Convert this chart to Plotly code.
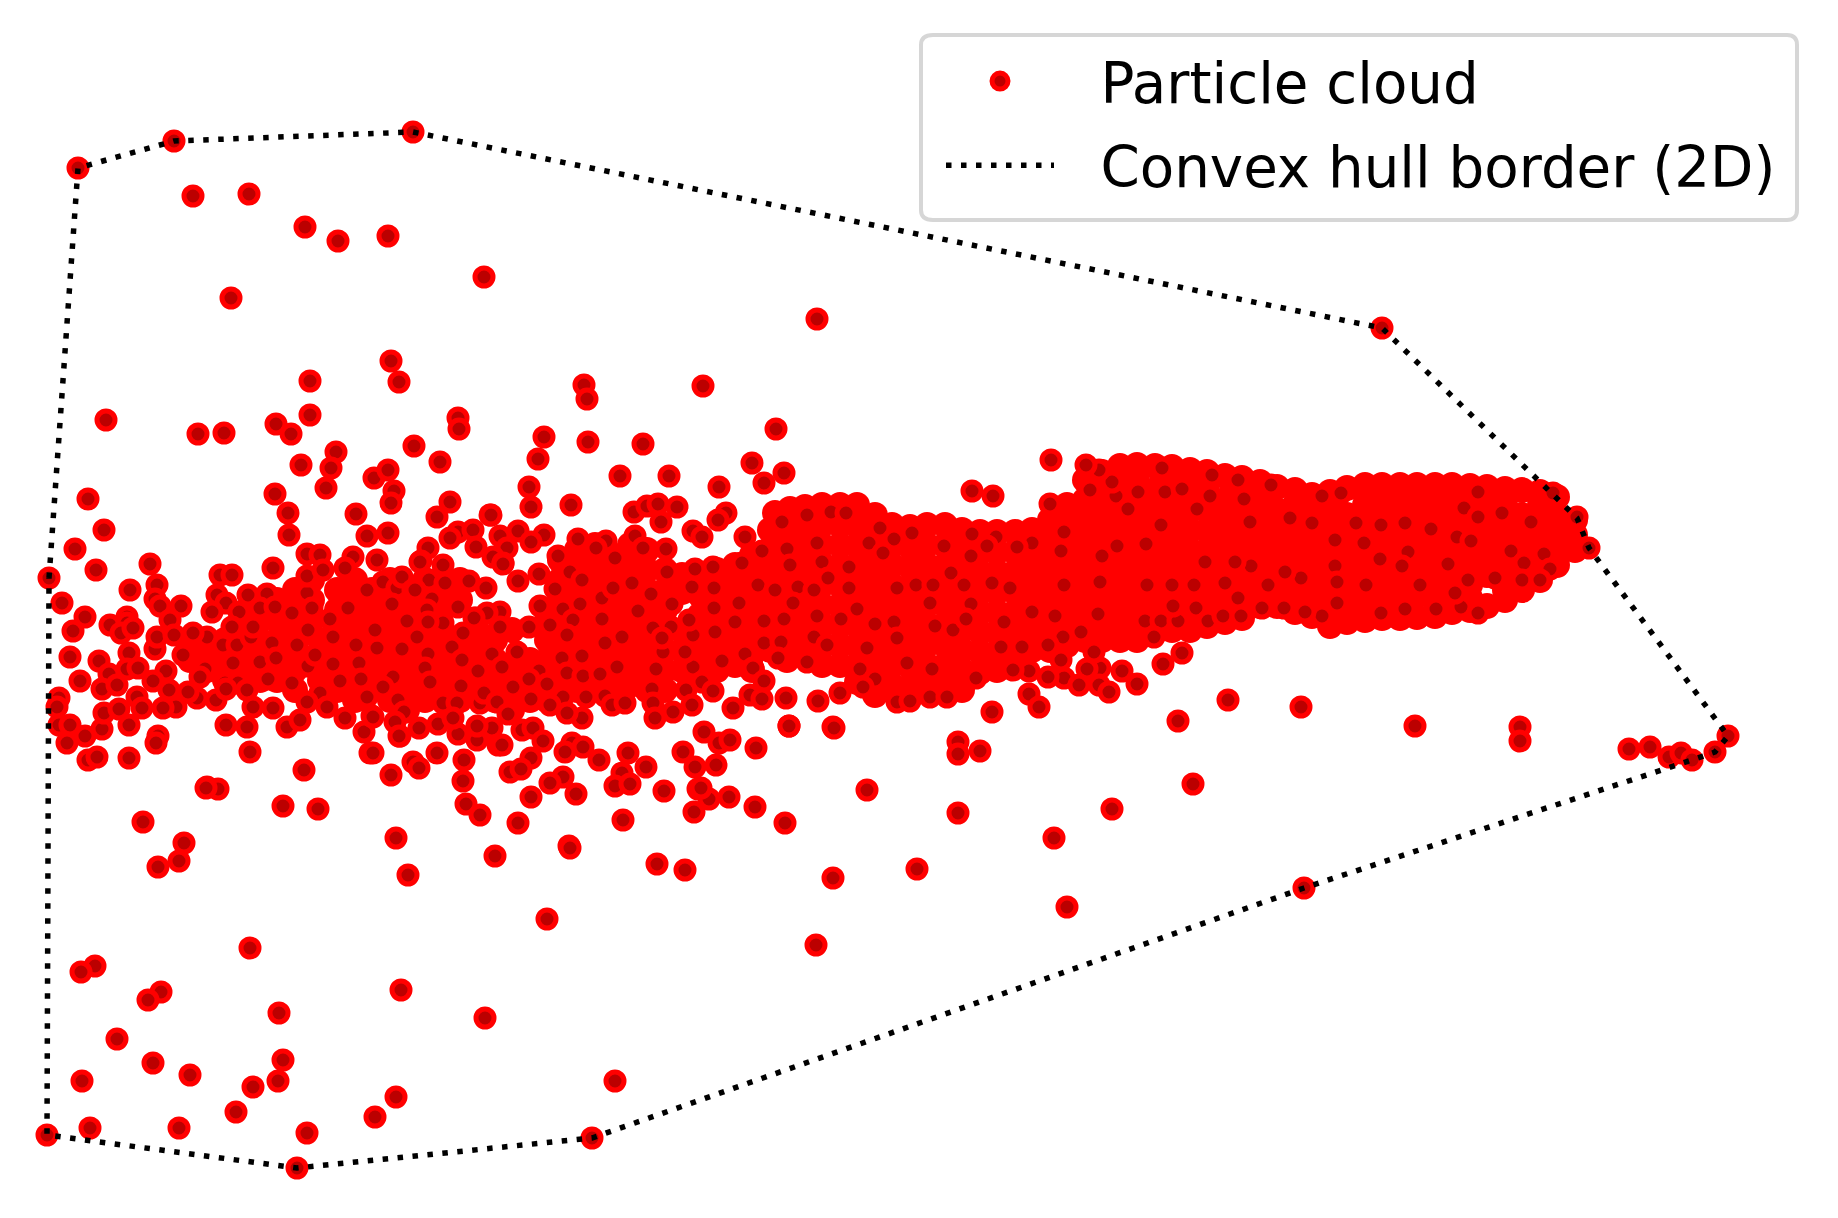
import plotly.graph_objects as go

# All positions (pixel-like plot units, y pointing down).
hull_pts = [(49,578),(78,168),(174,141),(413,132),(1382,328),(1553,493),(1577,518),(1589,548),
            (1728,736),(1715,752),(1692,760),(1304,888),(592,1138),(297,1168),(47,1135),(49,578)]

outliers_top = [(78,168),(174,141),(413,132),(1382,328),(193,196),(249,194),(305,227),(338,241),(388,236),
    (484,277),(231,298),(391,361),(399,382),(310,381),(310,415),(106,420),(198,434),(224,433),(276,424),
    (291,434),(458,418),(459,429),(544,437),(538,459),(414,446),(440,462),(301,465),(336,452),(331,468),
    (326,488),(374,478),(388,470),(394,491),(391,503),(275,494),(288,513),(289,535),(356,514),(367,536),
    (388,533),(450,502),(437,517),(490,515),(529,487),(531,507),(88,499),(104,530),(75,549),(150,564),
    (96,570),(458,532),(473,530),(476,547),(450,538),(500,536),(518,531),(544,535),(531,542),(507,548),
    (428,548),(421,561),(377,560),(353,557),(307,554),(493,557),(503,563),(443,565),(273,568),
    (817,319),(584,385),(587,399),(703,386),(776,429),(588,442),(643,444),(752,463),(784,473),(764,483),
    (620,476),(669,476),(719,487),(972,491),(993,496),(1051,460),(1050,504),(571,505),(491,515)]

left_cluster = [(49,578),(62,603),(85,617),(73,631),(70,657),(80,681),(99,661),(109,674),(102,689),(59,698),
    (57,707),(59,725),(70,725),(67,743),(85,736),(102,729),(104,713),(88,760),(97,757),(129,725),(129,758),
    (158,736),(156,743),(119,709),(137,697),(142,708),(130,590),(157,585),(155,599),(160,606),(181,606),
    (170,620),(110,625),(127,617),(127,623),(121,633),(133,628),(129,653),(127,669),(138,668),(117,685),
    (155,649),(157,637),(174,635),(166,671),(153,681),(183,655),(207,637),(193,633),(205,669),(220,575),
    (232,575),(217,595),(226,603),(212,612),(239,612),(248,595),(267,594),(260,608),(275,607),(223,645),
    (237,645),(233,663),(251,637),(260,662),(272,643),(253,627),(232,627),(225,683),(238,683),(247,690),
    (268,679),(276,658),(292,683),(292,613),(307,593),(320,555),(307,576),(323,570),(345,568),(367,590),
    (383,582),(397,588),(402,577),(429,580),(445,583),(469,581),(486,588),(432,599),(392,604),(413,590),
    (312,608),(348,608),(330,619),(308,630),(376,630),(407,621),(443,623),(476,618),(458,607),(427,610),
    (333,637),(297,645),(356,645),(377,648),(402,650),(429,655),(451,647),(492,655),(463,633),(417,637),
    (308,666),(315,655),(333,664),(359,663),(340,681),(361,679),(393,677),(426,667),(431,682),(461,686),
    (478,672),(484,693),(443,703),(398,700),(367,697),(320,693),(307,702),(327,707),(345,718),(287,727),
    (273,708),(300,720),(247,727),(226,725),(253,707),(216,700),(226,689),(197,698),(200,677),(169,690),
    (176,707),(163,708),(188,692),(250,752),(304,770),(207,787),(218,789),(283,806),(318,809),(391,775),
    (370,753),(364,732),(372,716),(400,736),(405,712),(419,728),(438,724),(413,762),(419,768),(437,753),
    (464,760),(463,781),(466,804),(480,815),(458,734),(477,740),(492,728),(457,703),(480,703),(500,700),
    (498,745),(453,718)]

middle_cluster = [(420,562),(503,564),(518,581),(539,574),(570,572),(582,580),(555,589),(415,590),(500,612),
    (487,613),(540,606),(563,609),(580,604),(602,598),(614,588),(632,583),(651,594),(667,572),(692,587),
    (672,604),(638,611),(602,619),(622,637),(428,622),(375,630),(474,618),(500,627),(529,627),(550,625),
    (573,620),(567,635),(605,643),(662,638),(689,621),(693,635),(402,649),(452,647),(428,654),(462,660),
    (492,654),(517,652),(562,658),(582,656),(425,668),(478,671),(502,667),(539,671),(567,673),(583,676),
    (600,674),(617,667),(656,669),(693,667),(663,652),(685,652),(430,682),(383,687),(513,687),(529,679),
    (547,684),(563,697),(586,697),(605,696),(652,689),(686,690),(484,693),(497,702),(531,699),(550,705),
    (612,705),(625,703),(653,703),(692,705),(673,712),(655,718),(373,717),(404,712),(395,722),(508,714),
    (477,726),(522,730),(533,728),(582,718),(567,713),(399,736),(502,745),(543,741),(572,743),(583,747),
    (565,752),(373,753),(531,758),(599,760),(628,753),(646,767),(683,752),(695,767),(622,773),(615,786),
    (630,784),(664,791),(698,789),(510,772),(521,769),(563,777),(550,783),(576,794),(531,797),(623,820),
    (694,812),(518,823),(396,838),(569,846),(709,799),(729,797),(755,807),(704,732),(719,743),(730,740),
    (756,748),(716,765),(701,788),(785,823),(833,727),(789,726),(867,790),(958,742),(958,754),(980,751),
    (958,813),(833,878),(917,869),(816,945),(657,864),(685,870),(547,919),(179,861),(143,822),(184,843),
    (158,867),(408,875),(495,856),(570,848)]

dense_band = [(558,556),(578,539),(606,541),(635,536),(596,548),(643,548),(666,549),(615,558),(613,588),
    (634,512),(647,506),(658,504),(677,507),(661,522),(726,513),(718,520),(693,531),(702,537),(745,537),
    (695,569),(713,567),(742,563),(762,551),(787,549),(782,522),(807,515),(831,512),(846,513),(880,528),
    (912,533),(894,539),(869,543),(817,543),(883,553),(944,546),(972,534),(971,556),(822,562),(849,567),
    (790,565),(758,585),(775,590),(798,587),(814,590),(828,578),(849,588),(897,588),(916,585),(933,585),
    (951,573),(964,585),(739,603),(793,603),(857,609),(930,603),(971,604),(735,622),(764,621),(784,619),
    (817,616),(841,619),(875,624),(894,622),(935,626),(953,630),(966,619),(714,588),(714,608),(689,620),
    (671,627),(653,628),(662,638),(715,632),(814,637),(764,643),(781,642),(827,645),(867,648),(897,638),
    (745,654),(722,661),(778,658),(753,668),(807,662),(860,669),(875,679),(863,687),(907,663),(932,669),
    (897,702),(910,701),(930,697),(947,697),(702,682),(713,691),(764,681),(750,695),(762,699),(733,708),
    (786,698),(818,701),(840,693),(789,726),(834,728),
    (1116,496),(1138,492),(1165,492),(1182,489),(1210,496),(1197,509),(1128,509),(1244,499),(1162,468),
    (1212,475),(1238,480),(1271,485),(1112,482),(1090,490),(1099,470),(1086,465),(1250,522),(1290,518),
    (1312,523),(1322,496),(1341,493),(1356,523),(1381,525),(1405,523),(1431,529),(1464,508),(1478,492),
    (1478,517),(1502,513),(1531,522),(1457,537),(1471,541),(1511,551),(1544,554),(1524,563),(1550,569),
    (1589,548),(1577,517),(1553,493),(1408,552),(1380,559),(1364,543),(1335,540),(1335,566),(1301,578),
    (1285,572),(1268,585),(1251,566),(1235,562),(1205,562),(1194,585),(1172,585),(1147,585),(1225,583),
    (1100,582),(1064,585),(1102,556),(1117,546),(1146,544),(1161,525),(1061,551),(1064,532),(1032,543),
    (1017,547),(996,537),(987,546),(992,583),(1010,588),(1004,622),(1032,612),(1055,616),(1081,632),
    (1098,614),(1063,637),(1048,645),(1022,647),(1001,647),(1145,621),(1161,621),(1178,621),(1173,606),
    (1196,608),(1208,621),(1223,616),(1238,598),(1241,616),(1262,608),(1154,637),(1337,582),(1337,603),
    (1366,585),(1381,613),(1405,609),(1436,609),(1420,585),(1402,566),(1448,564),(1468,580),(1495,578),
    (1522,580),(1540,580),(1322,616),(1461,607),(1478,613),(1455,593),(1284,608),(1305,612),
    (1163,664),(1182,653),(1122,671),(1100,668),(1087,669),(1064,678),(1029,671),(1079,685),(1099,685),
    (1137,684),(1109,692),(1061,660),(1094,652),(1048,677),(1013,670),(976,678),(1029,694),(1039,707),
    (992,712),(1228,700),(1301,707),(1178,721),(1415,726),(1520,727),(1520,741),(1629,749),(1650,747),
    (1669,757),(1681,753),(1692,760),(1715,752),(1728,736),(1304,888),(1193,784),(1112,809),(1054,838),
    (1067,907)]

outliers_bottom = [(206,788),(615,1081),(592,1138),(250,948),(95,966),(81,972),(161,992),(148,1000),(279,1013),
    (401,990),(485,1018),(117,1039),(153,1063),(190,1075),(82,1081),(283,1060),(278,1081),(253,1087),
    (236,1112),(179,1128),(90,1128),(47,1135),(307,1133),(297,1168),(375,1117),(396,1097)]

# Core of the cloud, where single centres can no longer be told apart.
core_pts = [
    (775,513),(790,509),(805,507),(1260,595),(1277,598),(1225,610),(1295,600),(1312,605),(1347,608),
    (1382,605),(1435,600),(1470,598),(1400,595),(1452,604),(1505,590),(1242,600),
    (190,640),(190,660),(207,650),(207,670),(225,640),(225,660),(225,680),(242,630),(242,650),(242,670),
    (260,620),(260,640),(260,660),(260,680),(277,600),(277,620),(277,640),(277,660),(277,680),
    (295,590),(295,610),(295,630),(295,650),(295,670),(295,690),(312,580),(312,600),(312,620),
    (337,590),(337,610),(355,580),(355,600),(372,590),(390,580),(390,600),(407,590),(425,580),(425,600),(442,590),(460,580),
    (320,640),(320,660),(320,680),(337,630),(337,650),(337,670),(337,690),(355,620),(355,640),(355,660),(355,680),(355,700),
    (372,610),(372,630),(372,650),(372,670),(372,690),(390,620),(390,640),(390,660),(390,680),(390,700),
    (407,610),(407,630),(407,650),(407,670),(407,690),(407,710),(425,620),(425,640),(425,660),(425,680),(425,700),
    (442,610),(442,630),(442,650),(442,670),(442,690),(460,600),(460,640),(460,660),(460,680),(460,700),
    (477,630),(477,650),(477,670),(477,690),(495,640),(495,660),(495,680),(495,700),
    (512,630),(512,670),(512,690),(512,710),(530,660),(530,680),(530,700),(547,620),(547,640),(547,660),(547,680),(547,700),
    (560,560),(560,580),(560,600),(560,620),(560,640),(560,660),(560,680),
    (577,550),(577,570),(577,590),(577,610),(577,630),(577,650),(577,670),(577,690),
    (595,545),(595,565),(595,585),(595,605),(595,625),(595,645),(595,665),(595,685),
    (612,555),(612,575),(612,595),(612,615),(612,635),(612,655),(612,675),(612,695),
    (630,545),(630,565),(630,585),(630,605),(630,625),(630,645),(630,665),(630,685),
    (647,550),(647,570),(647,590),(647,610),(647,630),(647,650),(647,670),(647,690),
    (665,570),(665,590),(665,610),(665,630),(665,650),(665,670),(665,690),
    (682,575),(682,592),(682,630),(682,650),(682,670),(700,575),(700,595),(700,615),(700,635),(700,655),(700,675),
    (717,570),(717,590),(717,610),(717,630),(717,650),(717,670),(735,565),(735,585),(735,605),(735,625),(735,645),(735,665),
    (752,555),(752,575),(752,595),(752,615),(752,635),(752,655),(752,670),
    (770,530),(770,550),(770,570),(770,590),(770,610),(770,630),(770,650),
    (787,520),(787,540),(787,560),(787,580),(787,600),(787,620),(787,640),(787,660),
    (805,515),(805,535),(805,555),(805,575),(805,595),(805,615),(805,635),(805,655),
    (822,505),(822,525),(822,545),(822,565),(822,585),(822,605),(822,625),(822,645),(822,665),
    (840,505),(840,525),(840,545),(840,565),(840,585),(840,605),(840,625),(840,645),(840,665),
    (857,505),(857,525),(857,545),(857,565),(857,585),(857,605),(857,625),(857,645),(857,665),(857,682),
    (875,515),(875,535),(875,555),(875,575),(875,595),(875,615),(875,635),(875,655),(875,675),(875,695),
    (892,525),(892,545),(892,565),(892,585),(892,605),(892,625),(892,645),(892,665),(892,685),
    (910,527),(910,547),(910,567),(910,587),(910,607),(910,627),(910,647),(910,667),(910,687),
    (927,525),(927,545),(927,565),(927,585),(927,605),(927,625),(927,645),(927,665),(927,685),
    (945,525),(945,545),(945,565),(945,585),(945,605),(945,625),(945,645),(945,665),(945,685),
    (962,530),(962,550),(962,570),(962,590),(962,610),(962,630),(962,650),(962,670),(962,690),
    (980,532),(980,552),(980,572),(980,592),(980,612),(980,632),(980,652),(980,672),
    (997,532),(997,552),(997,572),(997,592),(997,612),(997,632),(997,652),(997,670),
    (1015,532),(1015,552),(1015,572),(1015,592),(1015,612),(1015,632),(1015,652),(1015,665),
    (1032,530),(1032,550),(1032,570),(1032,590),(1032,610),(1032,630),(1032,650),
    (1050,520),(1050,540),(1050,560),(1050,580),(1050,600),(1050,620),(1050,640),(1050,650),
    (1067,505),(1067,525),(1067,545),(1067,565),(1067,585),(1067,605),(1067,625),(1067,645),
    (1085,480),(1085,500),(1085,520),(1085,540),(1085,560),(1085,580),(1085,600),(1085,620),(1085,640),
    (1102,472),(1102,490),(1102,510),(1102,530),(1102,550),(1102,570),(1102,590),(1102,610),(1102,630),(1102,640),
    (1120,466),(1120,485),(1120,505),(1120,525),(1120,545),(1120,565),(1120,585),(1120,605),(1120,625),(1120,640),
    (1137,465),(1137,480),(1137,500),(1137,520),(1137,540),(1137,560),(1137,580),(1137,600),(1137,620),(1137,640),
    (1155,466),(1155,490),(1155,510),(1155,530),(1155,550),(1155,570),(1155,590),(1155,610),(1155,632),
    (1172,467),(1172,480),(1172,500),(1172,520),(1172,540),(1172,560),(1172,580),(1172,600),(1172,620),(1172,630),
    (1190,470),(1190,490),(1190,510),(1190,530),(1190,550),(1190,570),(1190,590),(1190,610),(1190,630),
    (1207,472),(1207,490),(1207,510),(1207,530),(1207,550),(1207,570),(1207,590),(1207,610),(1207,626),
    (1225,476),(1225,500),(1225,520),(1225,540),(1225,560),(1225,580),(1225,600),(1225,622),
    (1242,478),(1242,490),(1242,510),(1242,530),(1242,550),(1242,570),(1242,590),(1242,610),(1242,618),
    (1260,482),(1260,500),(1260,520),(1260,540),(1260,560),(1260,580),(1260,606),
    (1277,487),(1277,510),(1277,530),(1277,550),(1277,570),(1277,590),(1277,606),
    (1295,490),(1295,505),(1295,525),(1295,545),(1295,565),(1295,585),(1295,612),
    (1312,495),(1312,515),(1312,535),(1312,555),(1312,575),(1312,595),(1312,616),
    (1330,492),(1330,505),(1330,525),(1330,545),(1330,565),(1330,585),(1330,605),(1330,626),
    (1347,488),(1347,515),(1347,535),(1347,555),(1347,575),(1347,595),(1347,622),
    (1365,485),(1365,505),(1365,525),(1365,545),(1365,565),(1365,585),(1365,605),(1365,620),
    (1382,485),(1382,495),(1382,515),(1382,535),(1382,555),(1382,575),(1382,595),(1382,618),
    (1400,485),(1400,505),(1400,525),(1400,545),(1400,565),(1400,585),(1400,605),(1400,618),
    (1417,485),(1417,495),(1417,515),(1417,535),(1417,555),(1417,575),(1417,595),(1417,617),
    (1435,485),(1435,505),(1435,525),(1435,545),(1435,565),(1435,585),(1435,616),
    (1452,485),(1452,495),(1452,515),(1452,535),(1452,555),(1452,575),(1452,595),(1452,612),
    (1470,486),(1470,505),(1470,525),(1470,545),(1470,565),(1470,585),(1470,610),
    (1487,487),(1487,495),(1487,515),(1487,535),(1487,555),(1487,575),(1487,606),
    (1505,489),(1505,505),(1505,525),(1505,545),(1505,565),(1505,585),(1505,600),
    (1522,490),(1522,515),(1522,535),(1522,555),(1522,575),(1522,590),
    (1540,492),(1540,505),(1540,525),(1540,545),(1540,565),(1540,580),
    (1557,497),(1557,515),(1557,535),(1557,555),(1557,565),(1575,520),(1575,535),(1575,550)]

legend_labels = ["\u00a0\u00a0\u200aParticle cloud", "\u00a0\u00a0\u200aConvex hull border (2D)"]

particles = outliers_top + left_cluster + middle_cluster + dense_band + outliers_bottom
RED, DARK = "#ff0000", "#bb0000"

fig = go.Figure()
fig.add_trace(go.Scatter(
    x=[p[0] for p in core_pts], y=[p[1] for p in core_pts], mode="markers",
    marker=dict(size=26, color=RED, line=dict(width=0)), showlegend=False, hoverinfo="skip"))
fig.add_trace(go.Scatter(
    x=[p[0] for p in particles], y=[p[1] for p in particles], mode="markers", name=legend_labels[0],
    legendgroup="a", marker=dict(size=18, color=DARK, line=dict(color=RED, width=5))))
fig.add_trace(go.Scatter(
    x=[p[0] for p in hull_pts], y=[p[1] for p in hull_pts], mode="lines", name=legend_labels[1],
    legendgroup="b", line=dict(color="black", width=5.5, dash="5.5px,9.5px")))

fig.update_layout(
    width=1838, height=1218, margin=dict(l=0, r=0, t=0, b=0),
    paper_bgcolor="white", plot_bgcolor="white",
    xaxis=dict(range=[0, 1838], visible=False, fixedrange=True),
    yaxis=dict(range=[1218, 0], visible=False, fixedrange=True),
    font=dict(family="DejaVu Sans", color="black"),
    legend=dict(x=941/1838, y=1-38/1218, xanchor="left", yanchor="top", bgcolor="rgba(0,0,0,0)",
                borderwidth=0, font=dict(size=56.3), itemwidth=108, tracegroupgap=8, itemclick=False),
    shapes=[dict(type="path", xref="x", yref="y", layer="above",
                 line=dict(color="#d6d6d6", width=4), fillcolor="rgba(0,0,0,0)",
                 path="M 933 35 L 1787 35 Q 1797 35 1797 45 L 1797 210 Q 1797 220 1787 220 "
                      "L 933 220 Q 921 220 921 210 L 921 45 Q 921 35 933 35 Z")],
)
fig.write_html("out.html", post_script="document.body.style.margin='0';", config={"displayModeBar": False})
